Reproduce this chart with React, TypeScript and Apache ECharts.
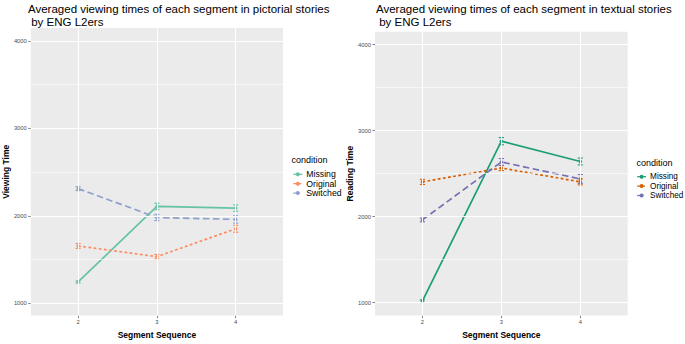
import React, { useEffect, useRef } from "react";
import * as echarts from "echarts";

const segments = [2, 3, 4];
const conditions = ["Missing", "Original", "Switched"];

// pictorial stories (left panel)
const pictMissing = [1244, 2107, 2089];
const pictMissingErr = [12, 37, 37];
const pictOriginal = [1656, 1533, 1852];
const pictOriginalErr = [28, 25, 40];
const pictSwitched = [2311, 1981, 1959];
const pictSwitchedErr = [22, 35, 42];

// textual stories (right panel)
const textMissing = [1018, 2877, 2641];
const textMissingErr = [15, 42, 40];
const textOriginal = [2404, 2565, 2404];
const textOriginalErr = [30, 30, 35];
const textSwitched = [1962, 2635, 2438];
const textSwitchedErr = [22, 40, 52];

const yTickValues = [1000, 2000, 3000, 4000];
const yMinorValues = [1500, 2500, 3500];

const leftColors = ["#66c2a5", "#fc8d62", "#8da0cb"];
const rightColors = ["#1b9e77", "#d95f02", "#7570b3"];
const dashTypes: any[] = ["solid", [2.8, 2.4], [6.5, 3.5]];

const FONT = "Liberation Sans, Arial, Helvetica, sans-serif";

function App() {
  const ref = useRef<HTMLDivElement>(null);
  useEffect(() => {
    if (!ref.current) return;
    const chart = echarts.init(ref.current, null, { renderer: "svg" });

    const panels = [
      {
        vals: [pictMissing, pictOriginal, pictSwitched],
        errs: [pictMissingErr, pictOriginalErr, pictSwitchedErr],
        colors: leftColors,
      },
      {
        vals: [textMissing, textOriginal, textSwitched],
        errs: [textMissingErr, textOriginalErr, textSwitchedErr],
        colors: rightColors,
      },
    ];

    const series: any[] = [];
    panels.forEach((p, pi) => {
      series.push({
        type: "line",
        name: "grid" + pi,
        xAxisIndex: pi,
        yAxisIndex: pi,
        data: [],
        silent: true,
        z: 1,
        markLine: {
          silent: true,
          symbol: ["none", "none"],
          label: { show: false },
          emphasis: { disabled: true },
          data: [
            ...yMinorValues.map((v) => ({ yAxis: v, lineStyle: { color: "#fff", width: 0.6, type: "solid" } })),
            ...yTickValues.map((v) => ({ yAxis: v, lineStyle: { color: "#fff", width: 1.1, type: "solid" } })),
            ...segments.map((v) => ({ xAxis: v, lineStyle: { color: "#fff", width: 1.1, type: "solid" } })),
          ],
        },
      });
      conditions.forEach((c, ci) => {
        const color = p.colors[ci];
        series.push({
          type: "custom",
          name: c + "_err" + pi,
          xAxisIndex: pi,
          yAxisIndex: pi,
          z: 3,
          silent: true,
          data: segments.map((s, i) => [s, p.vals[ci][i] - p.errs[ci][i], p.vals[ci][i] + p.errs[ci][i]]),
          encode: { x: 0, y: [1, 2] },
          renderItem: (params: any, api: any) => {
            const x = api.value(0);
            const lo = api.coord([x, api.value(1)]);
            const hi = api.coord([x, api.value(2)]);
            const hw = 2.6;
            const st = { stroke: color, lineWidth: 1.1, fill: null };
            return {
              type: "group",
              children: [
                { type: "line", shape: { x1: lo[0], y1: lo[1], x2: hi[0], y2: hi[1] }, style: st },
                { type: "line", shape: { x1: lo[0] - hw, y1: lo[1], x2: lo[0] + hw, y2: lo[1] }, style: st },
                { type: "line", shape: { x1: hi[0] - hw, y1: hi[1], x2: hi[0] + hw, y2: hi[1] }, style: st },
              ],
            };
          },
        });
        series.push({
          type: "line",
          name: c,
          xAxisIndex: pi,
          yAxisIndex: pi,
          z: 4,
          data: segments.map((s, i) => [s, p.vals[ci][i]]),
          symbol: "circle",
          symbolSize: 3.5,
          showSymbol: true,
          itemStyle: { color },
          lineStyle: { color, width: 1.7, type: dashTypes[ci] },
          emphasis: { disabled: true },
        });
      });
    });

    const grids = [
      { left: 27, top: 28, width: 256, height: 296 },
      { left: 375, top: 31.7, width: 252.7, height: 294 },
    ];

    const xAxes = grids.map((_, i) => ({
      type: "value",
      gridIndex: i,
      min: 1.4,
      max: 4.6,
      name: "Segment Sequence",
      nameLocation: "middle",
      nameGap: 10,
      nameTextStyle: { fontFamily: FONT, fontWeight: "bold", fontSize: 8.5, color: "#000" },
      axisLine: { show: false },
      axisTick: { show: true, length: 2.5, lineStyle: { color: "#333", width: 0.6 }, customValues: segments },
      axisLabel: { show: true, customValues: segments, fontSize: 5.8, color: "#4d4d4d", fontFamily: FONT, margin: 3.5, formatter: (v: number) => String(v) },
      splitLine: { show: false },
    }));

    const yAxes = [
      { min: 859, max: 4148, name: "Viewing Time" },
      { min: 850, max: 4149, name: "Reading Time" },
    ].map((a, i) => ({
      type: "value",
      gridIndex: i,
      min: a.min,
      max: a.max,
      name: a.name,
      nameLocation: "middle",
      nameRotate: 90,
      nameGap: 18,
      nameTextStyle: { fontFamily: FONT, fontWeight: "bold", fontSize: 8.5, color: "#000" },
      axisLine: { show: false },
      axisTick: { show: true, length: 2.5, lineStyle: { color: "#333", width: 0.6 }, customValues: yTickValues },
      axisLabel: { show: true, customValues: yTickValues, fontSize: 5.8, color: "#4d4d4d", fontFamily: FONT, margin: 4, formatter: (v: number) => String(v) },
      splitLine: { show: false },
    }));

    const mkLegend = (left: number, top: number, colors: string[], fs: number) => ({
      orient: "vertical",
      left,
      top,
      padding: 0,
      itemGap: 0,
      itemWidth: 9,
      itemHeight: 5,
      selectedMode: false,
      textStyle: { fontFamily: FONT, fontSize: fs, color: "#000", lineHeight: 9.4, padding: [0, 0, 0, -1] },
      data: conditions.map((c, ci) => ({
        name: c,
        itemStyle: { color: colors[ci] },
        lineStyle: { color: colors[ci], width: 1.2, type: dashTypes[ci] },
      })),
    });

    const titleStyle = { fontFamily: FONT, fontSize: 11.5, fontWeight: "normal", color: "#000", lineHeight: 13 };
    const condStyle = { fontFamily: FONT, fontSize: 9, fontWeight: "normal", color: "#000", lineHeight: 11 };

    chart.setOption({
      animation: false,
      title: [
        { text: "Averaged viewing times of each segment in pictorial stories\n by ENG L2ers", left: 28, top: 2, padding: 0, textStyle: titleStyle },
        { text: "Averaged viewing times of each segment in textual stories\n by ENG L2ers", left: 376, top: 2, padding: 0, textStyle: titleStyle },
        { text: "condition", left: 291.5, top: 154.5, padding: 0, textStyle: condStyle },
        { text: "condition", left: 636.5, top: 157.8, padding: 0, textStyle: condStyle },
      ],
      legend: [mkLegend(292.7, 169.6, leftColors, 8.7), mkLegend(636.5, 172, rightColors, 8.2)],
      grid: grids.map((g) => ({ ...g, show: true, backgroundColor: "#ebebeb", borderWidth: 0 })),
      xAxis: xAxes,
      yAxis: yAxes,
      series,
    });

    return () => chart.dispose();
  }, []);

  return <div ref={ref} style={{ width: 685, height: 344, position: "absolute", left: 0, top: 0, background: "#fff" }} />;
}

export default App;
